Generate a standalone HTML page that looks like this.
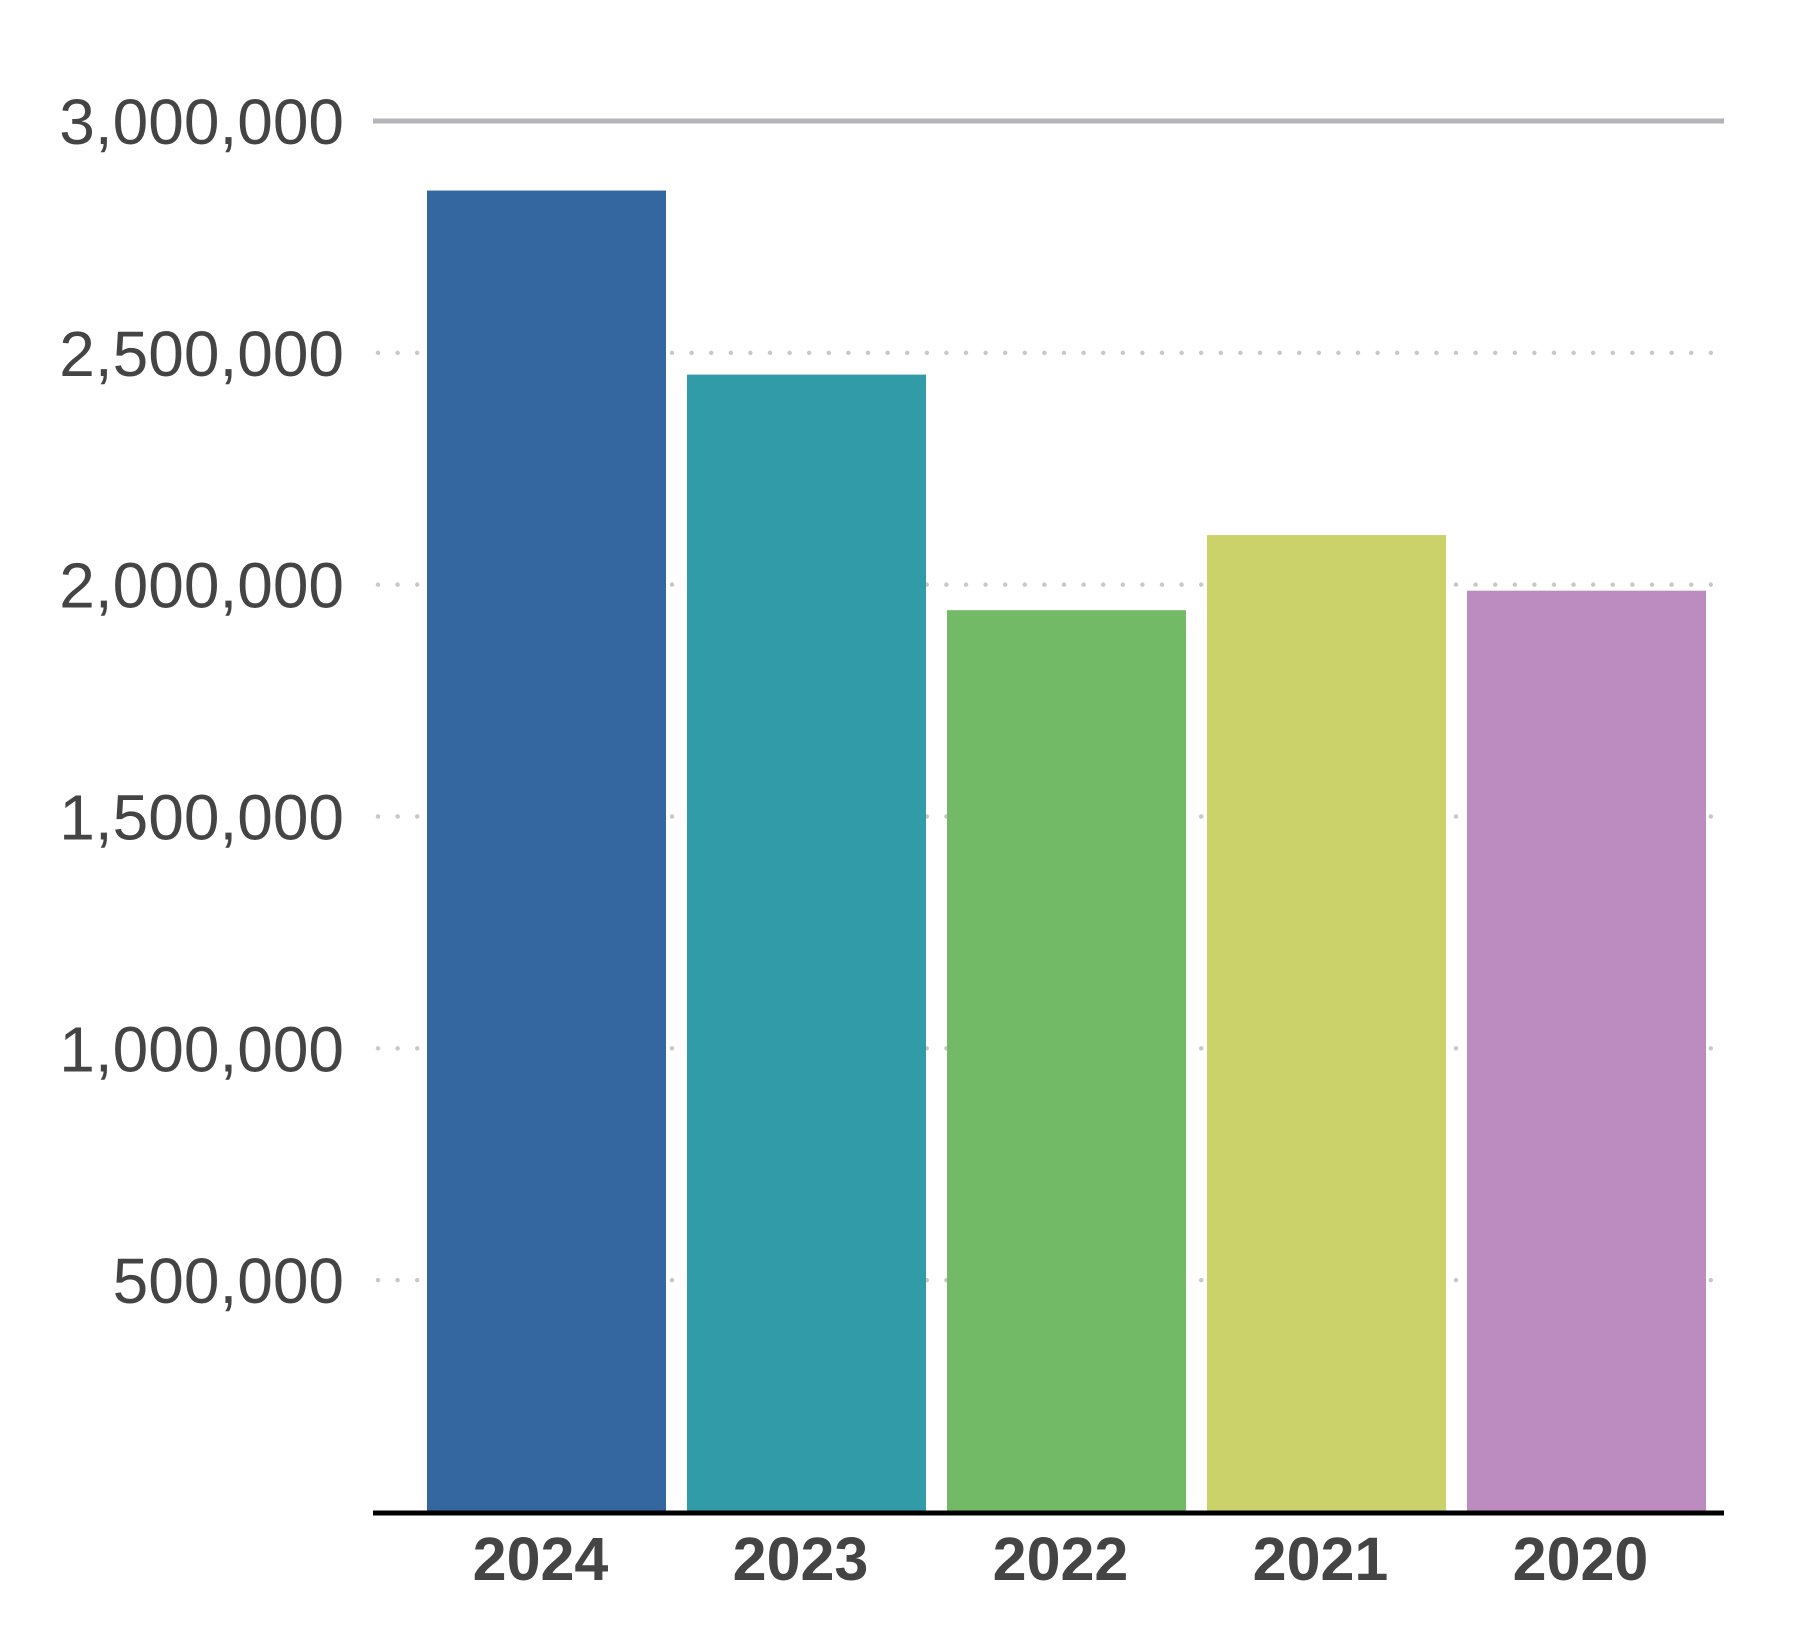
<!DOCTYPE html>
<html><head><meta charset="utf-8"><style>
html,body{margin:0;padding:0;background:#fff;}
svg{display:block;}
text{font-family:"Liberation Sans",sans-serif;fill:#444;}
</style></head><body>
<svg id="chart" width="1808" height="1642" viewBox="0 0 1808 1642" xmlns="http://www.w3.org/2000/svg"></svg>
<script>
const categories = ["2024","2023","2022","2021","2020"];
const values = [2850000, 2453000, 1945000, 2107000, 1987000];
const colors = ["#3466a0","#319ca8","#72ba65","#cbd26a","#bc8bbf"];
const yTicks = [500000,1000000,1500000,2000000,2500000,3000000];
const yTickLabels = ["500,000","1,000,000","1,500,000","2,000,000","2,500,000","3,000,000"];

const NS="http://www.w3.org/2000/svg";
const svg=document.getElementById('chart');
const plotL=373, plotR=1724, y0=1512, yTop=121, yMax=3000000;
const firstBar=427, step=260, barW=239;
function y(v){return y0-(v/yMax)*(y0-yTop);}
function xBand(i){return firstBar+i*step;}
function mk(tag,attrs){const e=document.createElementNS(NS,tag);for(const k in attrs)e.setAttribute(k,attrs[k]);svg.appendChild(e);return e;}

yTicks.forEach((t,i)=>{
  const yy=y(t);
  let ln;
  if(t===yMax){
    ln=mk('line',{x1:plotL,x2:plotR,y1:yy,y2:yy,stroke:'#b3b3b8','stroke-width':5});
  } else {
    ln=mk('line',{x1:plotL+5,x2:plotR,y1:yy,y2:yy,stroke:'#c8c8c8','stroke-width':4.5,'stroke-linecap':'round','stroke-dasharray':'0 19.6'});
  }
  
  
  const tx=mk('text',{x:344,y:yy+23,'text-anchor':'end','font-size':64});
  tx.textContent=yTickLabels[i];
  
  
});

categories.forEach((c,i)=>{
  const r=mk('rect',{x:xBand(i),y:y(values[i]),width:barW,height:y0-y(values[i]),fill:colors[i]});
  
  
  const tx=mk('text',{x:xBand(i)+barW/2-6,y:1580,'text-anchor':'middle','font-size':61,'font-weight':'bold'});
  tx.textContent=c;
  
  
});

const ax=mk('line',{x1:plotL,x2:plotR,y1:y0+1,y2:y0+1,stroke:'#000','stroke-width':5});


</script>
</body></html>
